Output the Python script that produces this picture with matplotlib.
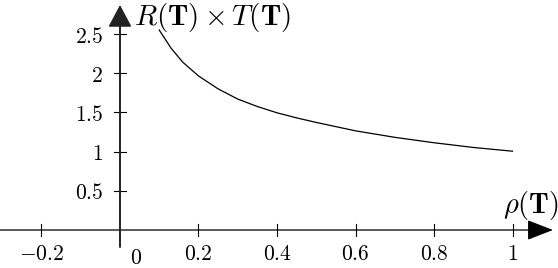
import matplotlib
matplotlib.use("Agg")
import matplotlib.pyplot as plt

plt.rcParams['mathtext.fontset'] = 'cm'
plt.rcParams['font.family'] = ['DejaVu Serif']

# Data
rho = [0.10, 0.117, 0.13, 0.16, 0.20, 0.25, 0.30, 0.35, 0.40, 0.45, 0.50, 0.60, 0.70, 0.80, 0.90, 1.00]
rt  = [2.55, 2.42, 2.32, 2.14, 1.965, 1.80, 1.67, 1.575, 1.495, 1.43, 1.372, 1.265, 1.182, 1.113, 1.053, 1.005]

xticks = [-0.2, 0.2, 0.4, 0.6, 0.8, 1.0]
xticklabels = [r'$-0.2$', r'$0.2$', r'$0.4$', r'$0.6$', r'$0.8$', r'$1$']
yticks = [0.5, 1.0, 1.5, 2.0, 2.5]
yticklabels = [r'$0.5$', r'$1$', r'$1.5$', r'$2$', r'$2.5$']
xlabel = r'$\rho(\mathbf{T})$'
ylabel = r'$R(\mathbf{T})\times T(\mathbf{T})$'

fig = plt.figure(figsize=(5.58, 2.68), dpi=100)
ax = fig.add_axes([0, 0, 1, 1])
ax.set_xlim(-0.3057, 1.1159)
ax.set_ylim(-0.4847, 2.9337)
ax.axis('off')

px_x = 1 / 392.5  # data units per pixel (x)
px_y = 1 / 78.4   # data units per pixel (y)

# axes with arrows
ax.annotate('', xy=(1.103, 0), xytext=(-0.31, 0),
            arrowprops=dict(arrowstyle='-|>,head_length=0.9,head_width=0.35',
                            lw=0.9, color='black', shrinkA=0, shrinkB=0,
                            mutation_scale=18))
ax.annotate('', xy=(0, 2.87), xytext=(0, -0.217),
            arrowprops=dict(arrowstyle='-|>,head_length=0.75,head_width=0.4',
                            lw=1.4, color='#222222', shrinkA=0, shrinkB=0,
                            mutation_scale=18))

# ticks
for xt, lab in zip(xticks, xticklabels):
    ax.plot([xt, xt], [-6 * px_y, 6 * px_y], color='black', lw=0.8)
    ax.text(xt, -30 * px_y, lab, ha='center', va='baseline', fontsize=15.5)
ax.text(16 * px_x, -34 * px_y, r'$0$', ha='center', va='baseline', fontsize=15.5)
for yt, lab in zip(yticks, yticklabels):
    ax.plot([-6 * px_x, 6 * px_x], [yt, yt], color='black', lw=0.8)
    ax.text(-17 * px_x, yt, lab, ha='right', va='center_baseline', fontsize=15.5)

# axis labels
ax.text(383 * px_x, 17 * px_y, xlabel, ha='left', va='baseline', fontsize=20.5)
ax.text(14 * px_x, 205 * px_y, ylabel, ha='left', va='baseline', fontsize=21)

# curve
ax.plot(rho, rt, color='black', lw=0.9)

fig.savefig('out.png', dpi=100)
